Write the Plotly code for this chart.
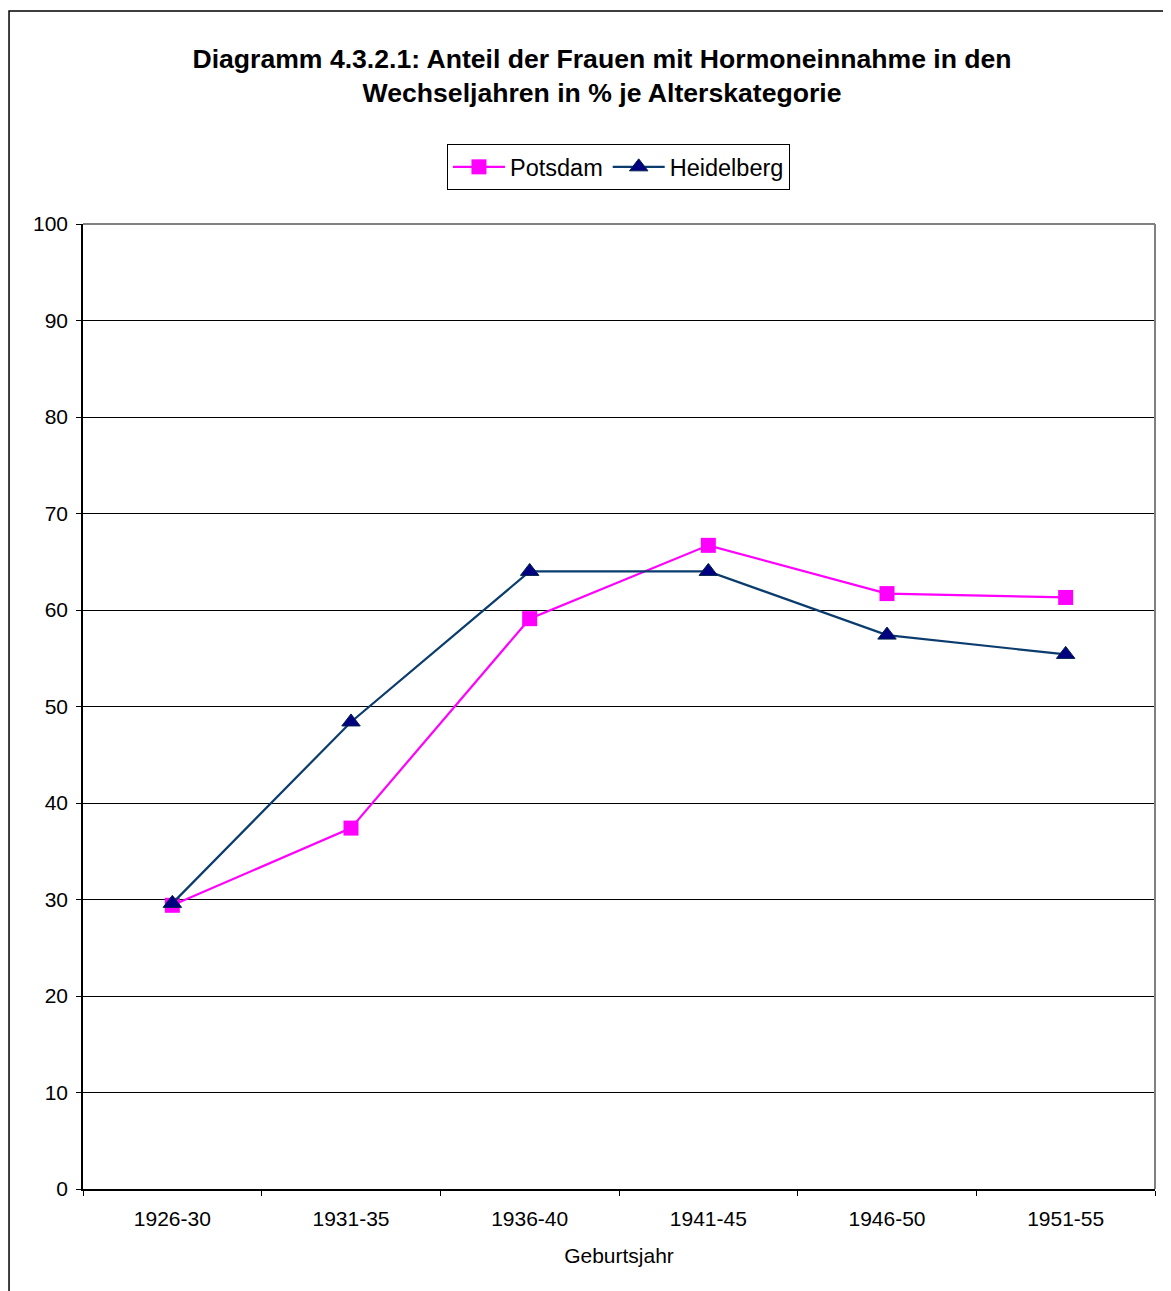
import plotly.graph_objects as go

kategorien = ["1926-30", "1931-35", "1936-40", "1941-45", "1946-50", "1951-55"]
potsdam = [29.4, 37.4, 59.1, 66.7, 61.7, 61.3]
heidelberg = [29.6, 48.4, 64.0, 64.0, 57.4, 55.4]

fig = go.Figure()
fig.add_trace(
    go.Scatter(
        x=kategorien, y=potsdam, mode="lines+markers", name="Potsdam",
        line=dict(color="#FF00FF", width=2.2),
        marker=dict(symbol="square", size=15, color="#FF00FF"),
    )
)
fig.add_trace(
    go.Scatter(
        x=kategorien, y=heidelberg, mode="lines+markers", name="Heidelberg",
        line=dict(color="#0B3C6E", width=2.2),
        marker=dict(symbol="triangle-up", size=16, color="#000080",
                    line=dict(color="#00204A", width=1)),
    )
)

# outer chart frame (cut off on right and bottom like the original)
fig.add_shape(type="rect", xref="paper", yref="paper",
              x0=-0.069, x1=1.05, y0=-0.15, y1=1.2207,
              line=dict(color="black", width=1.5), layer="below")
# grey plot-area border top/right
fig.add_shape(type="line", xref="paper", yref="paper", x0=0, x1=1, y0=1, y1=1,
              line=dict(color="#808080", width=2))
fig.add_shape(type="line", xref="paper", yref="paper", x0=1, x1=1, y0=0, y1=1,
              line=dict(color="#808080", width=2))

fig.update_layout(
    width=1171, height=1291,
    margin=dict(l=75, r=24, t=216, b=110),
    paper_bgcolor="white", plot_bgcolor="white",
    font=dict(family="Liberation Sans, Arial", color="black"),
    title=dict(
        text="<b>Diagramm 4.3.2.1: Anteil der Frauen mit Hormoneinnahme in den<br>Wechseljahren in % je Alterskategorie</b>",
        x=0.5073, xanchor="center", y=0.9539, yanchor="middle",
        font=dict(size=26.6),
    ),
    legend=dict(
        orientation="h", x=0.4995, xanchor="center", y=1.059, yanchor="middle",
        bordercolor="black", borderwidth=1, font=dict(size=23.5),
        itemwidth=52,
    ),
    xaxis=dict(
        title=dict(text="Geburtsjahr", font=dict(size=21), standoff=19),
        range=[-0.5, 5.5],
        tickson="boundaries", ticks="outside", ticklen=5, tickcolor="black",
        ticklabelstandoff=10,
        showline=True, linecolor="black", linewidth=1.5,
        showgrid=False, tickfont=dict(size=21),
    ),
    yaxis=dict(
        range=[0, 100], dtick=10, ticks="outside", ticklen=5, tickcolor="black",
        ticklabelstandoff=4,
        showline=True, linecolor="black", linewidth=1.5,
        gridcolor="black", gridwidth=1, zeroline=False,
        tickfont=dict(size=21),
    ),
)

fig.write_html("out.html")
